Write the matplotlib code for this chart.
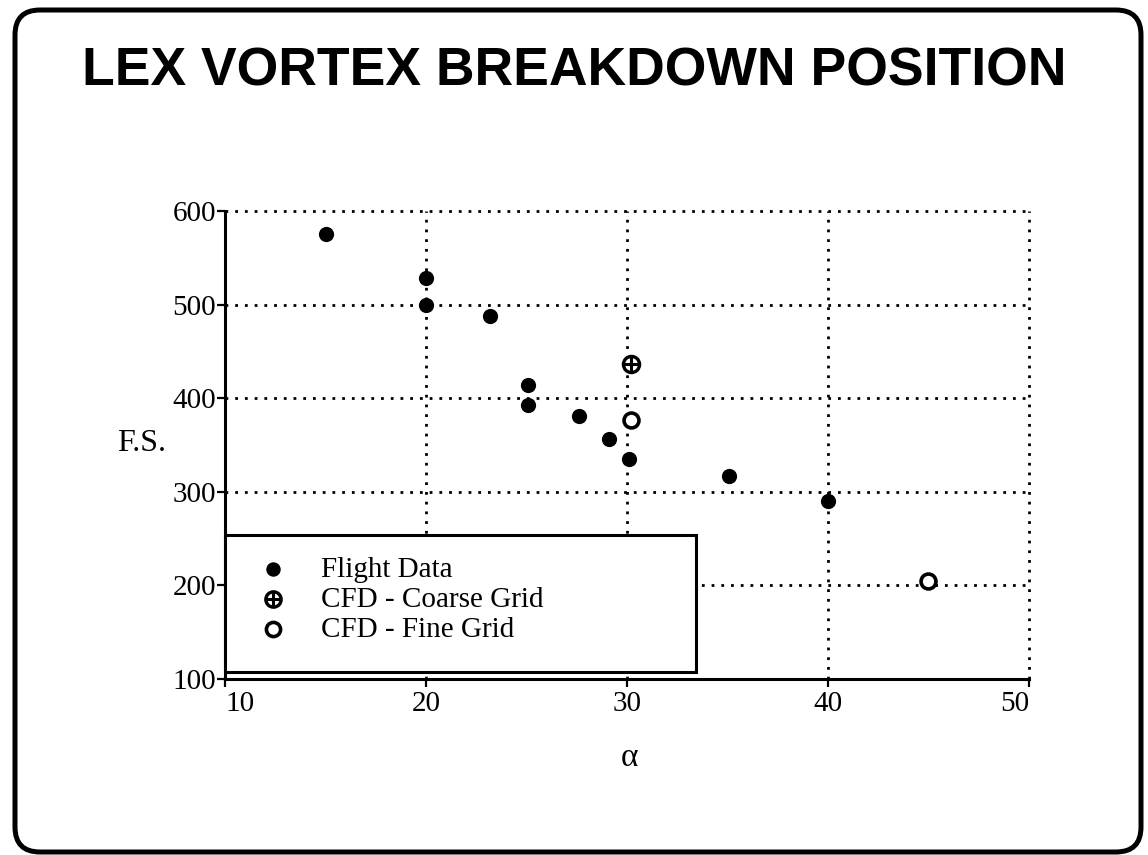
import matplotlib.pyplot as plt
from matplotlib.patches import FancyBboxPatch, Rectangle
from matplotlib.legend_handler import HandlerTuple

# values
flight_alpha = [15.0, 20.0, 20.0, 23.2, 25.1, 25.1, 27.6, 29.1, 30.1, 35.1, 40.0]
flight_fs = [575, 528, 500, 488, 414, 393, 381, 356, 335, 317, 290]
coarse_alpha = [30.2]
coarse_fs = [437]
fine_alpha = [30.2, 45.0]
fine_fs = [377, 205]

x_ticks = [10, 20, 30, 40, 50]
y_ticks = [100, 200, 300, 400, 500, 600]
series_labels = ['Flight Data', 'CFD - Coarse Grid', 'CFD - Fine Grid']

plt.rcParams['font.family'] = ['Liberation Serif', 'DejaVu Serif']

fig = plt.figure(figsize=(11.48, 8.55), dpi=100)
ax = fig.add_axes([0.196, 0.2058, 0.7003, 0.5474])

ax.set_xlim(x_ticks[0], x_ticks[-1])
ax.set_ylim(y_ticks[0], y_ticks[-1])
ax.set_xticks(x_ticks)
ax.set_yticks(y_ticks)

# dotted grid, also closes the top and right side of the box
dots = (0, (1, 2.5))
for xv in x_ticks[1:]:
    ax.axvline(xv, color='k', lw=2, ls=dots, clip_on=False, zorder=1)
for yv in y_ticks[1:]:
    ax.axhline(yv, color='k', lw=2, ls=dots, clip_on=False, zorder=1)

for s in ['top', 'right']:
    ax.spines[s].set_visible(False)
for s in ['left', 'bottom']:
    ax.spines[s].set_linewidth(2.2)

ax.tick_params(direction='out', length=5.5, width=1.6, labelsize=21)
ax.tick_params(axis='y', pad=1)
ax.tick_params(axis='x', pad=3)
xl = ax.get_xticklabels()
xl[0].set_ha('left')
xl[-1].set_ha('right')

h_flight = ax.scatter(flight_alpha, flight_fs, s=120, c='k', linewidths=0, zorder=6)
h_coarse_o = ax.scatter(coarse_alpha, coarse_fs, s=135, facecolor='white', edgecolor='k',
                        linewidths=2.4, zorder=6)
h_coarse_p = ax.scatter(coarse_alpha, coarse_fs, s=135, marker='+', c='k', linewidths=2.2, zorder=7)
h_fine = ax.scatter(fine_alpha, fine_fs, s=115, facecolor='white', edgecolor='k',
                    linewidths=2.6, zorder=6)

# legend box
ax.add_patch(Rectangle((0, 0.015), 0.586, 0.293, transform=ax.transAxes, facecolor='white',
                       edgecolor='k', lw=2.2, zorder=4, clip_on=False))
leg = ax.legend([h_flight, (h_coarse_o, h_coarse_p), h_fine], series_labels,
                loc='upper left', bbox_to_anchor=(0.042, 0.262), frameon=False,
                prop={'family': 'Liberation Serif', 'size': 21},
                handlelength=0.95, handletextpad=1.2, borderpad=0, borderaxespad=0,
                labelspacing=0.12, markerscale=0.95,
                handler_map={tuple: HandlerTuple(ndivide=1, pad=0)})
leg.set_zorder(8)

fig.text(0.102, 0.4725, 'F.S.', fontsize=23, ha='left', va='baseline')
fig.text(0.548, 0.104, 'α', fontsize=24, ha='center', va='baseline')
fig.text(0.5004, 0.8998, 'LEX VORTEX BREAKDOWN POSITION', fontsize=38.5,
         family='Liberation Sans', fontweight='bold', ha='center', va='baseline')

# rounded border round the slide
fig.add_artist(FancyBboxPatch((0.15, 0.03), 11.26, 8.42,
                              boxstyle='round,pad=0,rounding_size=0.25',
                              transform=fig.dpi_scale_trans, fill=False, lw=3.6, ec='k'))

fig.savefig('out.png', dpi=100)
